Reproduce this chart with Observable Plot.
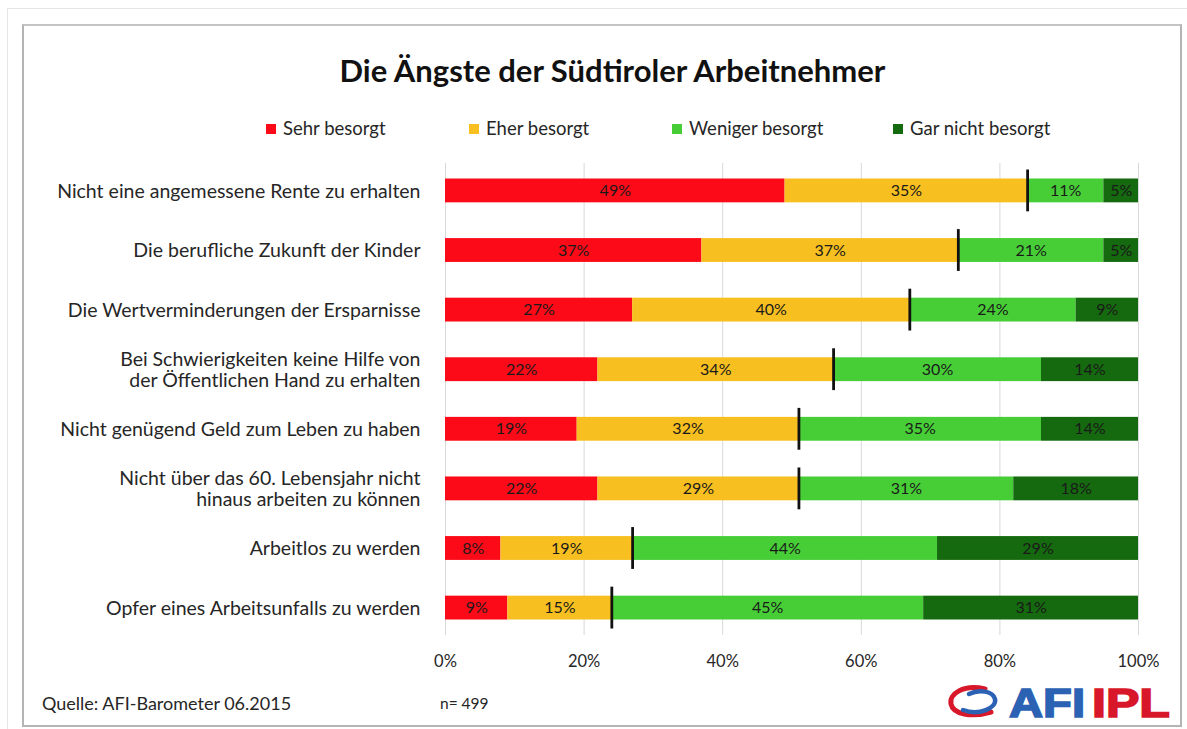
<!DOCTYPE html>
<html><head><meta charset="utf-8">
<script src="https://cdn.jsdelivr.net/npm/d3@7"></script>
<script src="https://cdn.jsdelivr.net/npm/@observablehq/plot@0.6"></script>
<style>
body{margin:0;background:#fff;font-family:Lato, "Open Sans", sans-serif;color:#262626;}
#page{position:relative;width:1187px;height:729px;overflow:hidden;background:#fff;}
#outer{position:absolute;left:7px;top:8px;width:1200px;height:760px;border-top:1px solid #e6e6e6;border-left:1px solid #e6e6e6;}
#panel{position:absolute;left:22px;top:24px;width:1156px;height:699px;border:2px solid #b4b4b4;border-top-color:#c4c4c4;}
#title{position:absolute;left:19px;width:1187px;top:52px;line-height:36px;text-align:center;font-weight:700;font-size:31px;color:#111;}
#legend{position:absolute;top:116px;left:0;width:1187px;height:24px;font-size:18.5px;line-height:24px;}
.li{position:absolute;top:0;white-space:nowrap;}
.sw{display:inline-block;width:10px;height:10px;margin-right:7px;vertical-align:1px;}
#chart{position:absolute;left:0;top:150px;}
#source{position:absolute;left:42px;top:692px;font-size:18px;line-height:22px;}
#n{position:absolute;left:440px;top:693px;font-size:15.5px;line-height:20px;}
#logo{position:absolute;left:945px;top:680px;}
</style></head><body>
<div id="page">
 <div id="outer"></div>
 <div id="panel"></div>
 <div id="title">Die Ängste der Südtiroler Arbeitnehmer</div>
 <div id="legend"></div>
 <div id="chart"></div>
 <div id="source">Quelle: AFI-Barometer 06.2015</div>
 <div id="n">n= 499</div>
 <div id="logo">
  <svg width="235" height="44" viewBox="0 0 235 44">
   <path d="M40,9 C18,4 4,14 6,24 C8,34 26,38 46,32" fill="none" stroke="#d8182a" stroke-width="5" stroke-linecap="round"/>
   <path d="M18,30 C34,36 52,28 50,19 C48,11 34,9 24,14" fill="none" stroke="#2c62b4" stroke-width="4.5" stroke-linecap="round"/>
   <text y="37" font-family="Liberation Sans, Arial, sans-serif" font-weight="700" font-size="40" stroke-width="1.6">
     <tspan x="64" fill="#2c62b4" stroke="#2c62b4" textLength="76" lengthAdjust="spacingAndGlyphs">AFI</tspan>
     <tspan x="147" fill="#d8182a" stroke="#d8182a" textLength="78" lengthAdjust="spacingAndGlyphs">IPL</tspan>
   </text>
  </svg>
 </div>
</div>
<script>
const categories = [
  "Nicht eine angemessene Rente zu erhalten",
  "Die berufliche Zukunft der Kinder",
  "Die Wertverminderungen der Ersparnisse",
  "Bei Schwierigkeiten keine Hilfe von\nder Öffentlichen Hand zu erhalten",
  "Nicht genügend Geld zum Leben zu haben",
  "Nicht über das 60. Lebensjahr nicht\nhinaus arbeiten zu können",
  "Arbeitlos zu werden",
  "Opfer eines Arbeitsunfalls zu werden"
];
const seriesNames = ["Sehr besorgt", "Eher besorgt", "Weniger besorgt", "Gar nicht besorgt"];
const sehrBesorgt     = [49, 37, 27, 22, 19, 22, 8, 9];
const eherBesorgt     = [35, 37, 40, 34, 32, 29, 19, 15];
const wenigerBesorgt  = [11, 21, 24, 30, 35, 31, 44, 45];
const garNichtBesorgt = [5, 5, 9, 14, 14, 18, 29, 31];
const seriesColors = ["#fc0a18", "#f7bf20", "#47ce37", "#15690e"];
const xTicks = [0, 20, 40, 60, 80, 100];

const seriesValues = [sehrBesorgt, eherBesorgt, wenigerBesorgt, garNichtBesorgt];
const rows = [];
categories.forEach((c, i) => {
  seriesNames.forEach((s, j) => rows.push({cat: c, series: s, value: seriesValues[j][i]}));
});
const markers = categories.map((c, i) => ({cat: c, x: sehrBesorgt[i] + eherBesorgt[i]}));

// legend
const leg = document.getElementById("legend");
const legX = [266, 469, 672, 893];
seriesNames.forEach((s, j) => {
  const d = document.createElement("div");
  d.className = "li";
  d.style.left = legX[j] + "px";
  d.innerHTML = `<span class="sw" style="background:${seriesColors[j]}"></span>${s}`;
  leg.appendChild(d);
});

const chart = Plot.plot({
  width: 1187,
  height: 540,
  marginLeft: 445,
  marginRight: 49,
  marginTop: 13,
  marginBottom: 55,
  style: {fontFamily: "Lato, sans-serif", fontSize: "16px", color: "#262626", background: "transparent"},
  x: {domain: [0, 100], ticks: xTicks, tickFormat: d => d + "%"},
  y: {domain: categories, paddingInner: 0.6, paddingOuter: 0.26, round: false, label: null},
  color: {domain: seriesNames, range: seriesColors},
  marks: [
    Plot.gridX(xTicks, {stroke: "#d9d9d9", strokeOpacity: 1}),
    Plot.barX(rows, Plot.stackX({x: "value", y: "cat", fill: "series", order: seriesNames})),
    Plot.text(rows, Plot.stackX({x: "value", y: "cat", z: "series", order: seriesNames,
      text: d => d.value + "%", fill: "#1a1a1a", fontSize: 16})),
    Plot.tickX(markers, {x: "x", y: "cat", stroke: "#111", strokeWidth: 2.8, insetTop: -9, insetBottom: -9}),
    Plot.axisX({ticks: xTicks, tickSize: 0, tickPadding: 20, tickFormat: d => d + "%", fontSize: 16.5, label: null}),
    Plot.axisY({tickSize: 0, tickPadding: 25, fontSize: 19.5, lineHeight: 1.1, label: null})
  ]
});
document.getElementById("chart").appendChild(chart);
</script>
</body></html>
